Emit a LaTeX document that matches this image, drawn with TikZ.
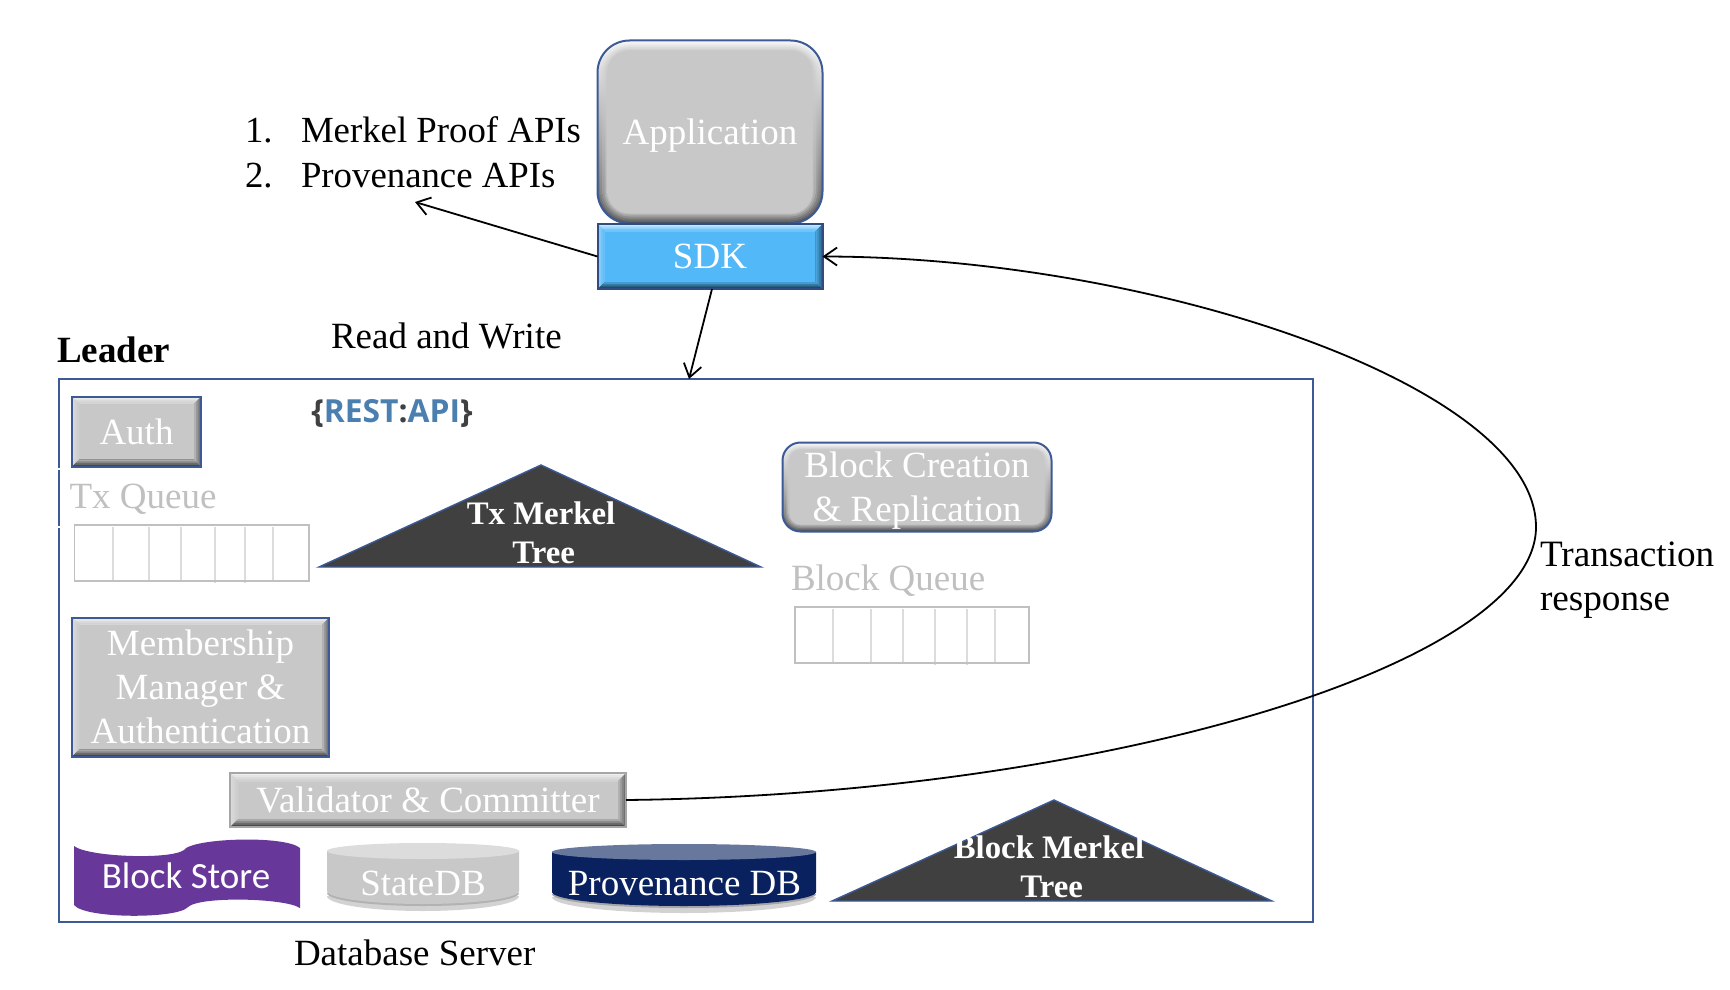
\documentclass[tikz,border=0pt]{standalone}
\usepackage{fontspec}
\setmainfont{Liberation Serif}
\newfontfamily\calfont{Carlito}
\newfontfamily\openfont{Open Sans}
\usetikzlibrary{arrows.meta,calc}
\definecolor{frameblue}{HTML}{3B5A96}
\definecolor{basegray}{HTML}{C8C8C8}
\definecolor{skyblue}{HTML}{52B8F8}
\definecolor{darktri}{HTML}{404040}
\definecolor{navydb}{HTML}{0A2160}
\definecolor{navytop}{HTML}{68789C}
\definecolor{purpstore}{HTML}{68379A}
\definecolor{restblue}{HTML}{4A7FB0}
\definecolor{queuegray}{HTML}{C0C0C0}
\definecolor{divgray}{HTML}{DCDCDC}
\newcommand\bevelfill[2]{%
  \foreach \f in {100,75,50,25}{%
    \pgfmathsetmacro\ins{#2*(100-\f)/100}%
    \pgfmathsetmacro\gt{100-0.7*\f}%
    \pgfmathsetmacro\gl{100-0.35*\f}%
    \pgfmathsetmacro\gb{100-0.65*\f}%
    \pgfmathsetmacro\gr{100-0.45*\f}%
    \coordinate (a) at ([xshift=\ins pt,yshift=-\ins pt]path picture bounding box.north west);
    \coordinate (b) at ([xshift=-\ins pt,yshift=-\ins pt]path picture bounding box.north east);
    \coordinate (c) at ([xshift=-\ins pt,yshift=\ins pt]path picture bounding box.south east);
    \coordinate (d) at ([xshift=\ins pt,yshift=\ins pt]path picture bounding box.south west);
    \coordinate (A) at ([xshift=#2pt,yshift=-#2pt]path picture bounding box.north west);
    \coordinate (B) at ([xshift=-#2pt,yshift=-#2pt]path picture bounding box.north east);
    \coordinate (C) at ([xshift=-#2pt,yshift=#2pt]path picture bounding box.south east);
    \coordinate (D) at ([xshift=#2pt,yshift=#2pt]path picture bounding box.south west);
    \fill[#1!\gt!white] (a)--(b)--(B)--(A)--cycle;
    \fill[#1!\gl!white] (a)--(d)--(D)--(A)--cycle;
    \fill[#1!\gb!black] (d)--(c)--(C)--(D)--cycle;
    \fill[#1!\gr!black] (b)--(c)--(C)--(B)--cycle;
  }%
}
\newcommand\softfill[3]{% base, depth, radius
  \foreach \f in {100,85,70,50,30,12,0}{%
    \pgfmathsetmacro\ins{#2*(100-\f)/100}%
    \pgfmathsetmacro\rad{max(#3-\ins,1)}%
    \pgfmathsetmacro\gt{100-0.95*\f}%
    \pgfmathsetmacro\gb{100-0.6*\f}%
    \path[rounded corners=\rad pt,top color=#1!\gt!white,bottom color=#1!\gb!black]
      ([xshift=\ins pt,yshift=-\ins pt]path picture bounding box.north west) rectangle
      ([xshift=-\ins pt,yshift=\ins pt]path picture bounding box.south east);
  }%
}
\tikzset{
  x=0.5pt,y=-0.5pt,
  txt/.style={font=\fontsize{18.5}{22}\selectfont,inner sep=0pt,outer sep=0pt},
  wh/.style 2 args={minimum width=#1*0.5pt,minimum height=#2*0.5pt},
  bevelbox/.style={txt,text=white,align=center,draw=frameblue,line width=1pt,fill=basegray,path picture={\bevelfill{basegray}{3.5}}},
  softbox/.style 2 args={txt,text=white,align=center,draw=frameblue,line width=1pt,fill=basegray,rounded corners=#2pt,path picture={\softfill{basegray}{#1}{#2}}},
  blackline/.style={line width=0.9pt,draw=black},
  arrowline/.style={blackline,-{Straight Barb[length=6.5pt,width=9pt,line width=0.9pt]}},
  queueouter/.style={draw=queuegray,line width=0.9pt},
  queuediv/.style={draw=divgray,line width=0.9pt},
  basetxt/.style={txt,anchor=base west},
  tritxt/.style={font=\bfseries\fontsize{16.4}{20}\selectfont,text=white,align=center,inner sep=0pt},
  triangleshape/.style={fill=darktri,draw=frameblue,line width=0.7pt,line join=miter},
}
\begin{document}
\begin{tikzpicture}
\useasboundingbox (0,0) rectangle (1730,990);
% frame
\node[draw=frameblue,line width=1pt,minimum width=627pt,minimum height=271.5pt,inner sep=0pt,outer sep=0pt] (frame) at (686,650.5) {};
\draw[white,line width=1.2pt] (59,468) -- (59,469.5) (59,526) -- (59,527.5);
% application and sdk
\node[softbox={5}{16},wh={225}{183},text depth=0pt] (app) at (710,132) {Application};
\node[bevelbox,wh={225}{65},fill=skyblue,path picture={\bevelfill{skyblue}{3.5}},draw=frameblue!85!black] (sdk) at (710,256.5) {SDK};
% list
\node[basetxt,font=\fontsize{18.4}{22}\selectfont] (n1) at (245,143) {1.};
\node[basetxt,font=\fontsize{18.4}{22}\selectfont] (t1) at (301,143) {Merkel Proof APIs};
\node[basetxt,font=\fontsize{18.4}{22}\selectfont] (n2) at (245,187) {2.};
\node[basetxt,font=\fontsize{18.4}{22}\selectfont] (t2) at (301,187) {Provenance APIs};
\node[basetxt,font=\fontsize{18.5}{22}\selectfont] (rw) at (331,348) {Read and Write};
\node[basetxt,font=\bfseries\fontsize{18.5}{22}\selectfont] (leader) at (57,362) {Leader};
\node[basetxt,font=\fontsize{18.6}{22}\selectfont] (tr1) at (1540,566) {Transaction};
\node[basetxt,font=\fontsize{18.6}{22}\selectfont] (tr2) at (1540,610) {response};
\node[basetxt,font=\fontsize{18.5}{22}\selectfont] (dbs) at (294,965) {Database Server};
% inner boxes
\node[bevelbox,wh={129}{70}] (auth) at (136.5,431.5) {Auth};
\node[txt] (rest) at (392,413.5) {\openfont\fontsize{15.9}{18}\selectfont\textbf{\textcolor{darktri}{\{}\textcolor{restblue}{REST}\textcolor{darktri}{:}\textcolor{restblue}{API}\textcolor{darktri}{\}}}};
\node[basetxt,text=queuegray] (txq) at (69.5,508) {Tx Queue};
\draw[queuediv] (113,527) -- (113,580) (149,527) -- (149,580) (181,527) -- (181,580) (215,527) -- (215,583) (245,527) -- (245,583) (273,527) -- (273,580);
\draw[queueouter] (74.5,525) rectangle (309,581);
% tx merkel
\draw[triangleshape] (319,567) -- (541,465) -- (761,567) -- cycle;
\node[tritxt] (txm) at (541,533) {Tx Merkel\\[-0.5pt]\,Tree};
% block creation
\node[softbox={3.5}{9},wh={269}{89},text depth=0pt] (bcr) at (917,487) {Block Creation\\\&\ Replication};
\node[basetxt,text=queuegray] (bq) at (791,590) {Block Queue};
\draw[queuediv] (833,609) -- (833,662) (871,609) -- (871,662) (903,609) -- (903,662) (935,609) -- (935,665) (967,609) -- (967,665) (995,609) -- (995,662);
\draw[queueouter] (795,607) rectangle (1029,663);
% membership
\node[bevelbox,wh={257}{139}] (mem) at (200.5,687) {Membership\\Manager \&\\Authentication};
% validator
\node[bevelbox,wh={396}{54},draw=gray!70,path picture={\bevelfill{basegray}{4}}] (val) at (428,800) {Validator \& Committer};
% block store
\fill[purpstore] (74,846) .. controls (88,857) and (170,860) .. (184,850) .. controls (192,838) and (285,835) .. (300,848) -- (300,908) .. controls (285,898) and (200,896) .. (188,907) .. controls (178,919) and (85,919) .. (74,905) -- cycle;
\node[txt,text=white] (bs) at (186,876) {\calfont Block Store};
% statedb
\fill[gray!35] (327,896) arc[start angle=180,end angle=360,x radius=48pt,y radius=7.5pt] -- cycle;
\fill[gray!60] (327,893) arc[start angle=180,end angle=360,x radius=48pt,y radius=6.5pt] -- cycle;
\fill[basegray] (327,851) -- (327,891) arc[start angle=180,end angle=360,x radius=48pt,y radius=6.5pt] -- (519,851) -- cycle;
\fill[divgray] (423,851) ellipse[x radius=48pt,y radius=4pt];
\node[txt,text=white] (sdb) at (423,883) {StateDB};
% provenance db
\fill[gray!35] (552,897) arc[start angle=180,end angle=360,x radius=66pt,y radius=8pt] -- cycle;
\fill[gray!70] (552,894) arc[start angle=180,end angle=360,x radius=66pt,y radius=7pt] -- cycle;
\fill[navydb] (552,852) -- (552,892) arc[start angle=180,end angle=360,x radius=66pt,y radius=7pt] -- (816,852) -- cycle;
\fill[navytop] (684,852) ellipse[x radius=66pt,y radius=4pt];
\node[txt,text=white] (pdb) at (684.5,884) {Provenance DB};
% block merkel
\draw[triangleshape] (832,901) -- (1054,800) -- (1272,901) -- cycle;
\node[tritxt] (bm) at (1049,867) {Block Merkel\\[-0.5pt]\,Tree};
% connectors
\coordinate (listend) at (415,202);
\coordinate (frametop) at (689,379);
\draw[arrowline] (sdk.west) -- (listend);
\draw[arrowline] ([xshift=1pt]sdk.south) -- (frametop);
\draw[arrowline] (val.east) .. controls (1100,795) and (1536,665) .. (1536,527) .. controls (1536,385) and (1150,257) .. (sdk.east);
\end{tikzpicture}
\end{document}
